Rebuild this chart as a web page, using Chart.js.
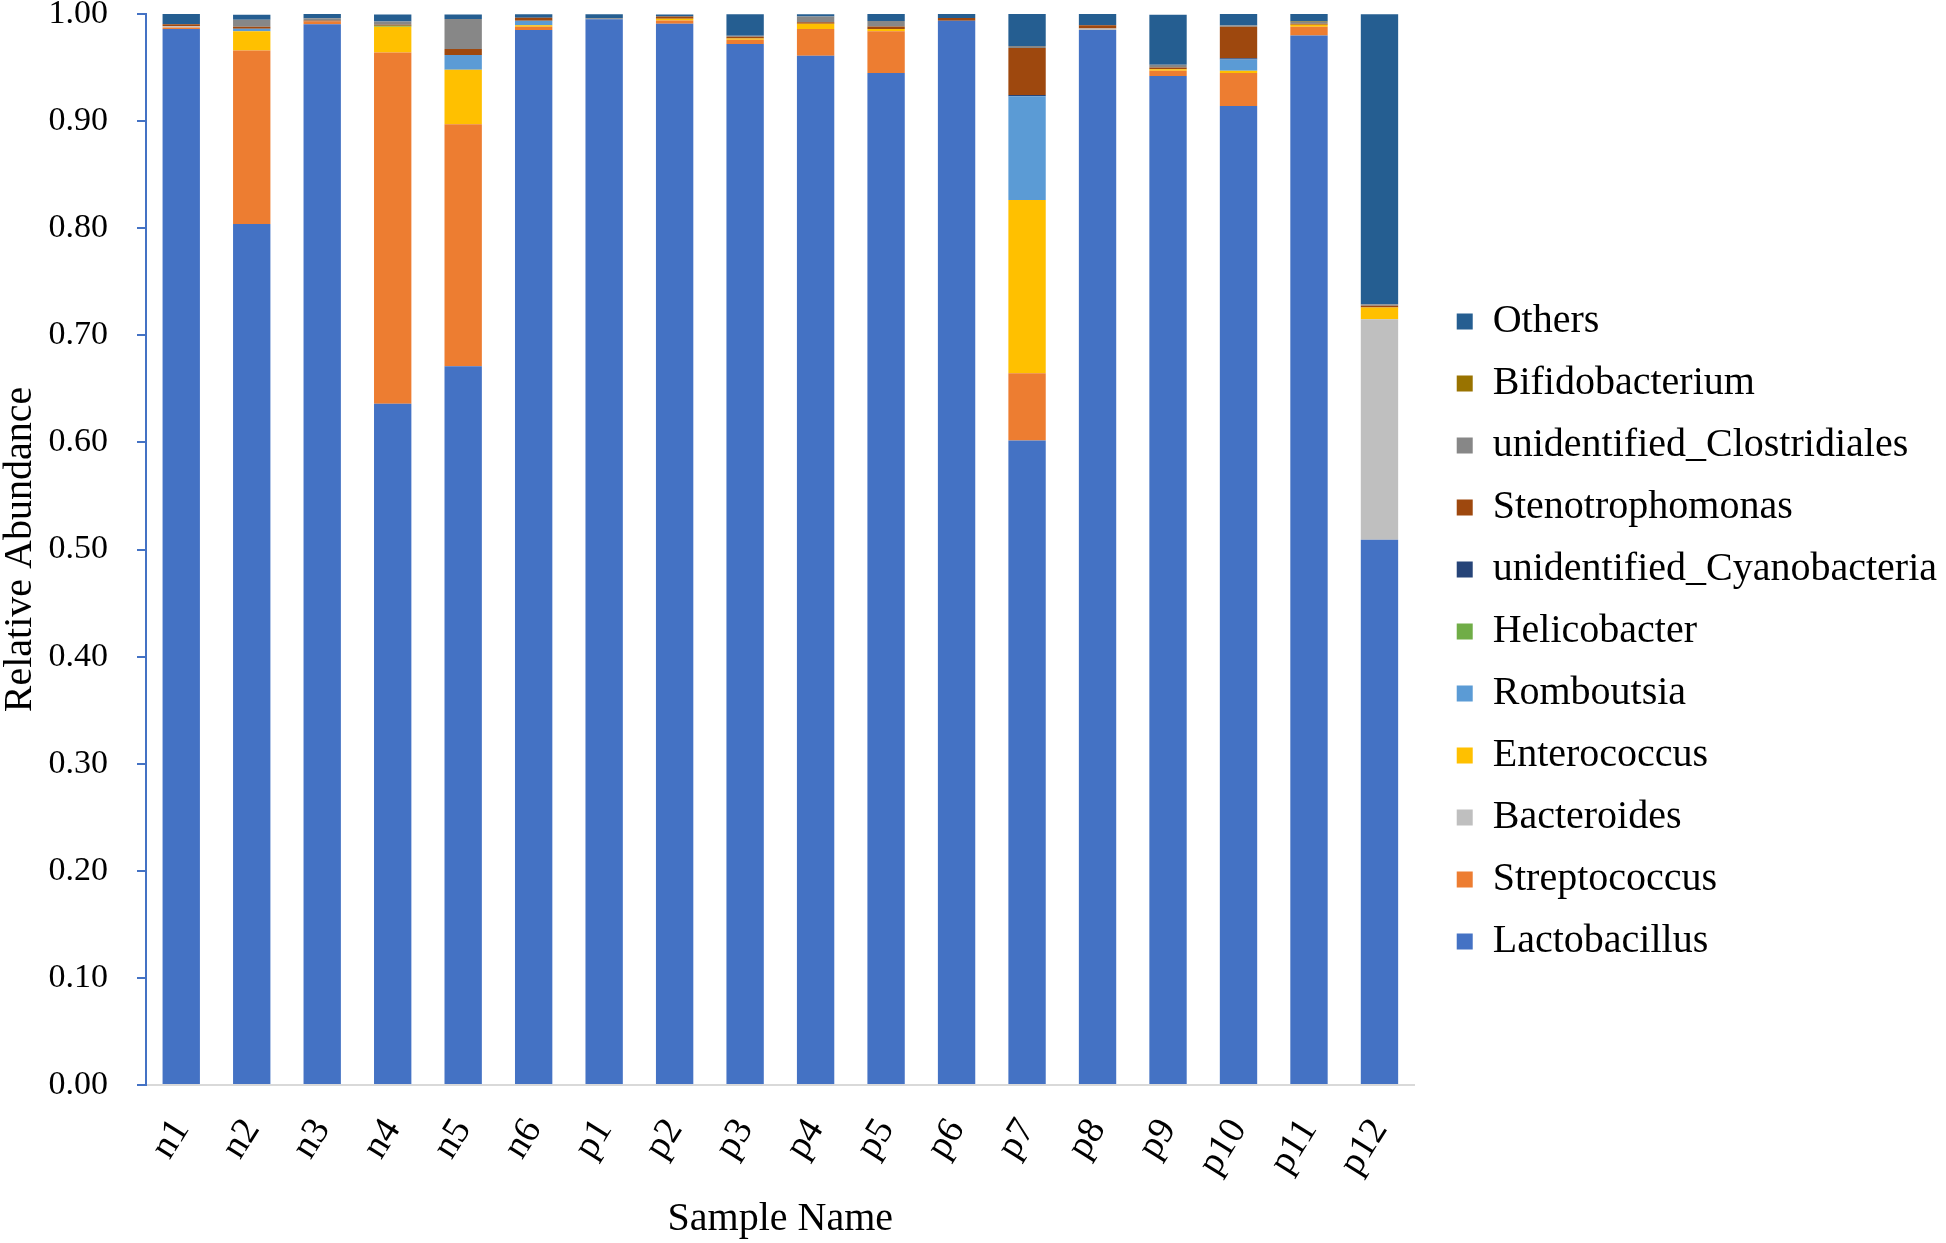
<!DOCTYPE html>
<html>
<head>
<meta charset="utf-8">
<script src="https://cdn.jsdelivr.net/npm/chart.js@4.4.1/dist/chart.umd.min.js"></script>
<style>
  html, body { margin: 0; padding: 0; background: #fff; overflow: hidden; }
  #wrap { width: 1946px; height: 1243px; }
  canvas { display: block; }
</style>
</head>
<body>
<div id="wrap"><canvas id="myChart" width="1946" height="1243"></canvas></div>
<script>
// samples and genus abundances
const samples = ["n1", "n2", "n3", "n4", "n5", "n6", "p1", "p2", "p3", "p4", "p5", "p6", "p7", "p8", "p9", "p10", "p11", "p12"];

const lactobacillus  = [0.986, 0.804, 0.9905, 0.636, 0.671, 0.985, 0.995, 0.991, 0.972, 0.961, 0.945, 0.9938, 0.6017, 0.985, 0.942, 0.914, 0.980, 0.509];
const streptococcus  = [0.0015, 0.162, 0.0025, 0.328, 0.226, 0.003, 0, 0.003, 0.004, 0.025, 0.039, 0, 0.0628, 0, 0.005, 0.031, 0.008, 0];
const bacteroides    = [0.001, 0, 0, 0, 0, 0, 0, 0, 0, 0, 0, 0, 0, 0.0015, 0, 0, 0, 0.206];
const enterococcus   = [0, 0.018, 0, 0.024, 0.051, 0.0016, 0, 0.0016, 0.0012, 0.005, 0.0019, 0, 0.1618, 0, 0.0015, 0.002, 0.002, 0.011];
const romboutsia     = [0, 0.0022, 0, 0, 0.0137, 0.004, 0, 0, 0, 0, 0, 0, 0.097, 0, 0, 0.0106, 0, 0];
const helicobacter   = [0, 0, 0, 0.001, 0, 0, 0, 0, 0, 0, 0, 0, 0, 0, 0, 0, 0, 0];
const cyanobacteria  = [0, 0, 0, 0, 0, 0, 0, 0, 0, 0, 0, 0, 0.001, 0, 0, 0.001, 0, 0];
const stenotrophomonas = [0.002, 0.002, 0.001, 0.001, 0.0056, 0.003, 0, 0.002, 0.0015, 0.0012, 0.0025, 0.0025, 0.0439, 0.003, 0.0015, 0.0296, 0.001, 0.0015];
const clostridiales  = [0, 0.0065, 0.002, 0.003, 0.028, 0, 0.001, 0, 0.001, 0.0055, 0.005, 0, 0.0019, 0, 0.0025, 0.001, 0.0015, 0.0015];
const bifidobacterium = [0, 0, 0, 0, 0, 0, 0, 0, 0, 0, 0, 0, 0, 0, 0, 0, 0.0005, 0];
const others         = [0.0095, 0.0047, 0.004, 0.0065, 0.0043, 0.0031, 0.0037, 0.002, 0.02, 0.002, 0.0068, 0.0037, 0.0299, 0.0106, 0.0467, 0.0118, 0.007, 0.2708];

const yTicks = [0, 0.1, 0.2, 0.3, 0.4, 0.5, 0.6, 0.7, 0.8, 0.9, 1.0];

Chart.defaults.font.family = "'Liberation Serif', 'Times New Roman', serif";
Chart.defaults.color = "#000";

// nudge legend so the text lines up with the original
const legendShift = {
  id: "legendShift",
  afterLayout(chart) {
    const lg = chart.legend;
    lg.left += 20;
    lg.right += 20;
    lg.top += 10;
    lg.bottom += 10;
  }
};

const ctx = document.getElementById("myChart");
new Chart(ctx, {
  type: "bar",
  data: {
    labels: samples,
    datasets: [
      { label: "Lactobacillus", data: lactobacillus, backgroundColor: "#4472C4" },
      { label: "Streptococcus", data: streptococcus, backgroundColor: "#ED7D31" },
      { label: "Bacteroides", data: bacteroides, backgroundColor: "#BFBFBF" },
      { label: "Enterococcus", data: enterococcus, backgroundColor: "#FFC000" },
      { label: "Romboutsia", data: romboutsia, backgroundColor: "#5B9BD5" },
      { label: "Helicobacter", data: helicobacter, backgroundColor: "#70AD47" },
      { label: "unidentified_Cyanobacteria", data: cyanobacteria, backgroundColor: "#264478" },
      { label: "Stenotrophomonas", data: stenotrophomonas, backgroundColor: "#9E480E" },
      { label: "unidentified_Clostridiales", data: clostridiales, backgroundColor: "#878787" },
      { label: "Bifidobacterium", data: bifidobacterium, backgroundColor: "#997300" },
      { label: "Others", data: others, backgroundColor: "#255E91" },
    ],
  },
  options: {
    responsive: false,
    animation: false,
    layout: { padding: { left: 0, right: 19, top: 0, bottom: 0 } },
    datasets: {
      bar: { barPercentage: 0.53, categoryPercentage: 1.0, borderWidth: 0 }
    },
    plugins: {
      legend: {
        position: "right",
        reverse: true,
        maxWidth: 700,
        labels: {
          boxWidth: 16,
          boxHeight: 16,
          padding: 22,
          font: { size: 40 },
          color: "#000",
        },
      },
      tooltip: { enabled: false },
    },
    scales: {
      x: {
        stacked: true,
        grid: { display: false, drawTicks: false },
        border: { display: true, color: "#D9D9D9", width: 2 },
        ticks: {
          autoSkip: false,
          minRotation: 58,
          maxRotation: 58,
          padding: 26,
          font: { size: 38 },
          color: "#000",
        },
        title: {
          display: true,
          text: "Sample Name",
          font: { size: 40, lineHeight: 1 },
          color: "#000",
          padding: { top: 0, bottom: 4 },
        },
        afterFit: (scale) => { scale.height = 158; },
      },
      y: {
        stacked: true,
        min: 0,
        max: 1,
        afterBuildTicks: (scale) => { scale.ticks = yTicks.map(v => ({ value: v })); },
        grid: { drawOnChartArea: false, drawTicks: true, tickLength: 9, color: "#4472C4", lineWidth: 2 },
        border: { display: true, color: "#4472C4", width: 2 },
        ticks: {
          padding: 29,
          font: { size: 34, lineHeight: 1 },
          color: "#000",
          callback: (v) => Number(v).toFixed(2),
        },
        title: {
          display: true,
          text: "Relative Abundance",
          font: { size: 40, lineHeight: 1 },
          color: "#000",
          padding: { top: 0, bottom: 0 },
        },
        afterFit: (scale) => {
          scale.width = 146;
          scale.paddingTop = 14;
          scale.paddingBottom = 0;
        },
      },
    },
  },
  plugins: [legendShift],
});
</script>
</body>
</html>
